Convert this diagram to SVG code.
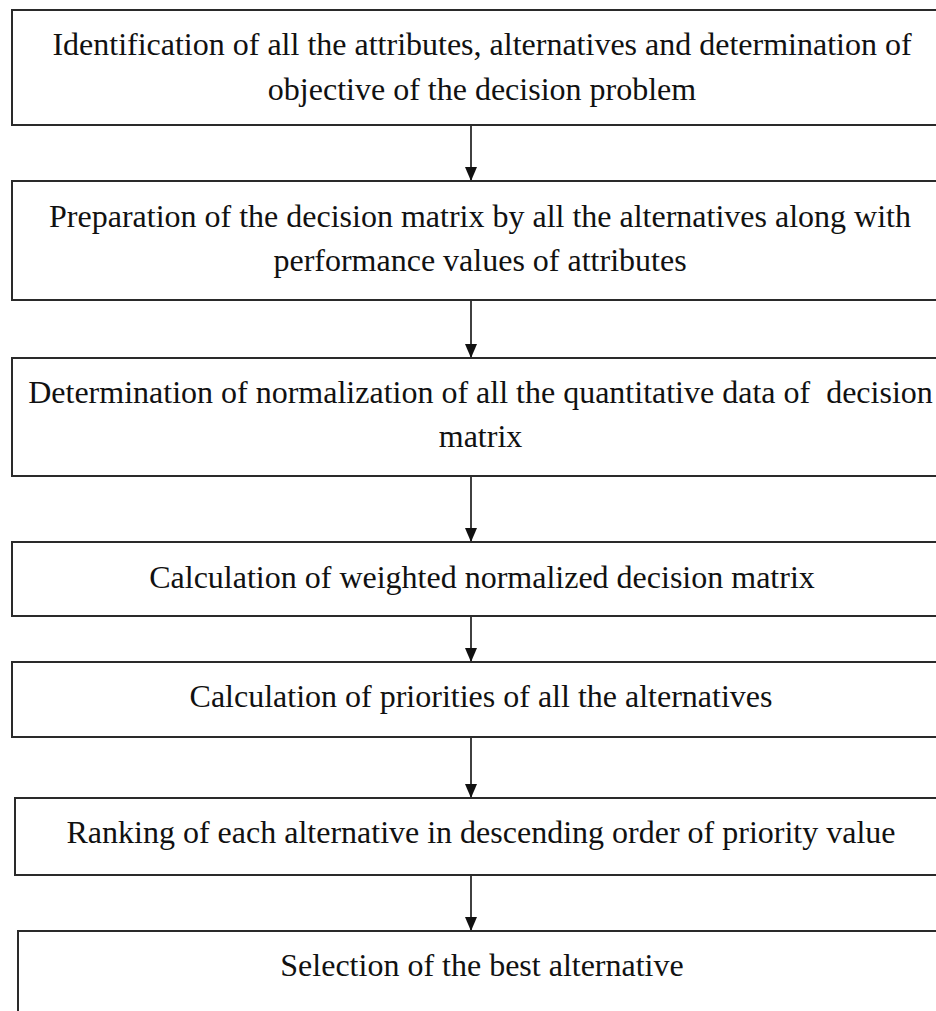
<svg xmlns="http://www.w3.org/2000/svg" width="936" height="1011" viewBox="0 0 936 1011">
  <defs>
    <marker id="ah" markerUnits="userSpaceOnUse" markerWidth="16" markerHeight="14" refX="15" refY="7" orient="auto" viewBox="0 0 16 14">
      <path d="M1,1 L15,7 L1,13 Z" fill="#111"/>
    </marker>
  </defs>
  <style>
    .box { fill: #ffffff; stroke: #2a2a2a; stroke-width: 2; }
    .lbl { font-size: 32px; fill: #111; text-anchor: middle; white-space: pre; }
    .conn { stroke: #111; stroke-width: 1.6; fill: none; }
  </style>
  <rect width="936" height="1011" fill="#ffffff"/>

  <g id="connectors">
    <line class="conn" x1="471" y1="125" x2="471" y2="181" marker-end="url(#ah)"/>
    <line class="conn" x1="471" y1="300" x2="471" y2="358" marker-end="url(#ah)"/>
    <line class="conn" x1="471" y1="474" x2="471" y2="542" marker-end="url(#ah)"/>
    <line class="conn" x1="471" y1="616" x2="471" y2="662" marker-end="url(#ah)"/>
    <line class="conn" x1="471" y1="737" x2="471" y2="798" marker-end="url(#ah)"/>
    <line class="conn" x1="471" y1="868" x2="471" y2="931" marker-end="url(#ah)"/>
  </g>

  <g font-family="'Liberation Serif', 'DejaVu Serif', 'Times New Roman', serif">
  <g id="node1">
    <rect class="box" x="12" y="10" width="940" height="115"/>
    <text class="lbl" x="482" y="55">Identification of all the attributes, alternatives and determination of</text>
    <text class="lbl" x="482" y="100">objective of the decision problem</text>
  </g>
  <g id="node2">
    <rect class="box" x="12" y="181" width="940" height="119"/>
    <text class="lbl" x="480" y="227">Preparation of the decision matrix by all the alternatives along with</text>
    <text class="lbl" x="480" y="271">performance values of attributes</text>
  </g>
  <g id="node3">
    <rect class="box" x="12" y="358" width="940" height="118"/>
    <text class="lbl" x="480.5" y="403">Determination of normalization of all the quantitative data of  decision</text>
    <text class="lbl" x="480.5" y="447">matrix</text>
  </g>
  <g id="node4">
    <rect class="box" x="12" y="542" width="940" height="74"/>
    <text class="lbl" x="482" y="588">Calculation of weighted normalized decision matrix</text>
  </g>
  <g id="node5">
    <rect class="box" x="12" y="662" width="940" height="75"/>
    <text class="lbl" x="481" y="707">Calculation of priorities of all the alternatives</text>
  </g>
  <g id="node6">
    <rect class="box" x="15" y="798" width="940" height="77"/>
    <text class="lbl" x="481" y="843">Ranking of each alternative in descending order of priority value</text>
  </g>
  <g id="node7">
    <rect class="box" x="18" y="931" width="940" height="100"/>
    <text class="lbl" x="482" y="976">Selection of the best alternative</text>
  </g>
  </g>
</svg>
